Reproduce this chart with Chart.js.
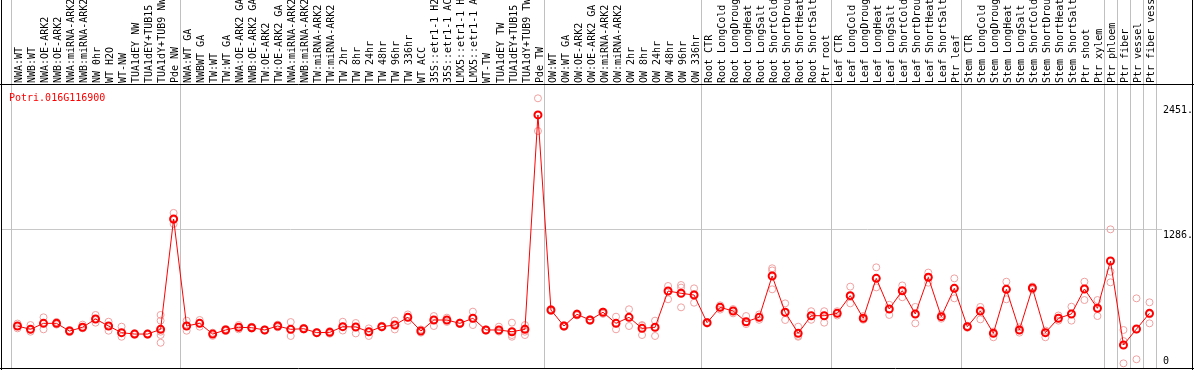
<!DOCTYPE html>
<html><head><meta charset="utf-8">
<script src="https://cdn.jsdelivr.net/npm/chart.js@4/dist/chart.umd.min.js"></script>
<style>html,body{margin:0;padding:0;background:#fff;overflow:hidden}#wrap{width:1194px;height:370px;position:relative}</style>
</head><body><div id="wrap"><canvas id="c"></canvas></div>
<script>
const geneName = 'Potri.016G116900';
const categories = [
 'NWA:WT','NWB:WT','NWA:OE-ARK2','NWB:OE-ARK2','NWA:miRNA-ARK2','NWB:miRNA-ARK2','NW 0hr','WT H2O','WT-NW','TUA1dEY NW','TUA1dEY+TUB15','TUA1dY+TUB9 NW','Pde NW',
 'NWA:WT GA','NWBWT GA','TW:WT','TW:WT GA','NWA:OE-ARK2 GA','NWB:OE-ARK2 GA','TW:OE-ARK2','TW:OE-ARK2 GA','NWA:miRNA-ARK2','NWB:miRNA-ARK2','TW:miRNA-ARK2','TW:miRNA-ARK2','TW 2hr','TW 8hr','TW 24hr','TW 48hr','TW 96hr','TW 336hr','WT ACC','35S::etr1-1 H2','35S::etr1-1 AC','LMX5::etr1-1 H','LMX5::etr1-1 A','WT-TW','TUA1dEY TW','TUA1dEY+TUB15','TUA1dY+TUB9 TW','Pde TW',
 'OW:WT','OW:WT GA','OW:OE-ARK2','OW:OE-ARK2 GA','OW:miRNA-ARK2','OW:miRNA-ARK2','OW 2hr','OW 8hr','OW 24hr','OW 48hr','OW 96hr','OW 336hr',
 'Root CTR','Root LongCold','Root LongDroug','Root LongHeat','Root LongSalt','Root ShortCold','Root ShortDrou','Root ShortHeat','Root ShortSalt','Ptr root',
 'Leaf CTR','Leaf LongCold','Leaf LongDroug','Leaf LongHeat','Leaf LongSalt','Leaf ShortCold','Leaf ShortDrou','Leaf ShortHeat','Leaf ShortSalt','Ptr leaf',
 'Stem CTR','Stem LongCold','Stem LongDroug','Stem LongHeat','Stem LongSalt','Stem ShortCold','Stem ShortDrou','Stem ShortHeat','Stem ShortSalt','Ptr shoot','Ptr xylem',
 'Ptr phloem','Ptr fiber','Ptr vessel','Ptr fiber vess'
];
const meanValues = [
 382,351,407,407,335,370,447,382,320,307,307,351,1379,
 382,407,307,345,370,366,345,382,351,357,320,323,376,373,329,376,391,463,335,438,438,407,454,345,345,329,351,2349,
 531,382,491,438,510,407,463,360,370,708,687,671,
 413,556,522,422,463,848,510,314,478,478,
 500,665,454,826,541,711,494,836,469,733,
 376,522,314,724,345,736,320,454,494,727,547,
 988,205,354,500
];
const replicateValues = [
 [405,382,360],[391,351,329],[463,407,351],[420,407,395],[345,335,325],[395,370,360],[485,447,413],[422,382,338],[376,320,282],[315,307,300],[312,307,300],[485,432,329,298,226],[1436,1370,1333],
 [432,382,338],[438,407,376],[320,307,290],[355,345,335],[391,370,351],[375,366,358],[350,345,340],[395,382,370],[419,351,289],[365,357,350],[325,320,315],[335,323,310],[422,376,340],[410,373,313],[360,329,289],[385,376,368],[432,391,350],[490,463,430],[350,335,320],[475,438,382],[460,438,420],[415,407,400],[516,454,391],[350,345,340],[376,345,330],[413,329,298,282],[391,360,329,298],[2504,2349,2199],
 [540,531,522],[390,382,375],[500,491,480],[445,438,430],[516,510,495],[469,407,351],[538,463,382],[391,385,298],[432,370,289],[755,708,631],[764,740,556],[733,680,599],
 [420,413,405],[575,556,535],[540,522,500],[475,422,400],[490,463,440],[920,900,724],[593,510,438],[376,290,282],[520,478,440],[520,478,413],
 [520,500,480],[749,665,593],[475,454,440],[929,826,742],[580,541,485],[760,711,650],[560,494,407],[880,836,786],[490,469,450],[826,733,640],
 [385,376,365],[560,522,444],[330,314,277],[795,724,631],[370,345,320],[750,736,720],[340,320,277],[480,454,432],[562,494,432],[795,727,624],[624,547,475],
 [1283,888,789],[345,242,34],[640,350,72],[603,490,407]
];
const yTickValues = [0, 1286, 2451];
const groupBoundaries = [-0.5, 12.5, 40.5, 52.5, 62.5, 72.5, 83.5, 84.5, 85.5, 86.5, 87.5];

const MONO = "'DejaVu Sans Mono', 'Liberation Mono', monospace";
const meanPoints = meanValues.map((v, i) => ({x: i, y: v}));
const repPoints = [];
replicateValues.forEach((arr, i) => arr.forEach(v => repPoints.push({x: i, y: v})));

const decor = {
  id: 'decor',
  beforeDatasetsDraw(chart) {
    const ctx = chart.ctx, xs = chart.scales.x, ca = chart.chartArea;
    ctx.save();
    ctx.strokeStyle = '#c0c0c0';
    ctx.lineWidth = 1;
    groupBoundaries.forEach(b => {
      const px = Math.round(xs.getPixelForValue(b)) + 0.5;
      ctx.beginPath(); ctx.moveTo(px, 0); ctx.lineTo(px, ca.bottom); ctx.stroke();
    });
    ctx.fillStyle = '#ff0000';
    ctx.font = '10px ' + MONO;
    ctx.textBaseline = 'top';
    ctx.textAlign = 'left';
    ctx.fillText(geneName, ca.left + 7, ca.top + 8);
    ctx.restore();
  },
  afterDraw(chart) {
    const ctx = chart.ctx, ca = chart.chartArea, W = chart.width, H = chart.height;
    ctx.save();
    ctx.strokeStyle = '#000';
    ctx.lineWidth = 1;
    ctx.beginPath();
    ctx.moveTo(1.5, 0); ctx.lineTo(1.5, H);
    ctx.moveTo(W - 1.5, 0); ctx.lineTo(W - 1.5, H);
    ctx.moveTo(0, Math.round(ca.top) - 0.5); ctx.lineTo(W, Math.round(ca.top) - 0.5);
    ctx.moveTo(0, H - 1.5); ctx.lineTo(W, H - 1.5);
    ctx.stroke();
    ctx.restore();
  }
};

new Chart(document.getElementById('c'), {
  data: {
    datasets: [
      {type: 'line', label: geneName, data: meanPoints, order: 0,
       borderColor: '#ff0000', borderWidth: 1, pointRadius: 3.5, pointBorderWidth: 2,
       pointBorderColor: '#ff0000', pointBackgroundColor: 'rgba(0,0,0,0)', tension: 0},
      {type: 'scatter', label: 'replicates', data: repPoints, order: 1,
       borderColor: '#f0a0a0', backgroundColor: 'rgba(0,0,0,0)', pointRadius: 3.5, borderWidth: 1}
    ]
  },
  options: {
    responsive: true, maintainAspectRatio: false, animation: false, devicePixelRatio: 1,
    layout: {autoPadding: false, padding: {left: 2, right: 0, top: 0, bottom: 1}},
    plugins: {legend: {display: false}, tooltip: {enabled: false}, title: {display: false}},
    scales: {
      x: {
        type: 'linear', position: 'top', min: -1.19, max: 87.5,
        afterBuildTicks: s => { s.ticks = categories.map((_, i) => ({value: i})); },
        afterFit: s => { s.height = 85; s.paddingLeft = 0; s.paddingRight = 0; },
        ticks: {autoSkip: false, minRotation: 90, maxRotation: 90, padding: 2, labelOffset: 14, color: '#000',
                font: {family: MONO, size: 10}, callback: v => categories[v]},
        grid: {display: false, drawTicks: false},
        border: {display: false}
      },
      y: {
        type: 'linear', position: 'right', min: -18.6, max: 2628,
        afterBuildTicks: s => { s.ticks = yTickValues.map(v => ({value: v})); },
        afterFit: s => { s.width = 38; s.paddingTop = 0; s.paddingBottom = 0; },
        ticks: {padding: 1, color: '#000', font: {family: MONO, size: 10},
                callback: v => v === 0 ? ['0', ''] : ['', v + '.']},
        grid: {tickLength: 6, color: c => (c.tick && c.tick.value === 1286) ? '#c8c8c8' : 'rgba(0,0,0,0)'},
        border: {display: false}
      }
    }
  },
  plugins: [decor]
});
</script></body></html>
